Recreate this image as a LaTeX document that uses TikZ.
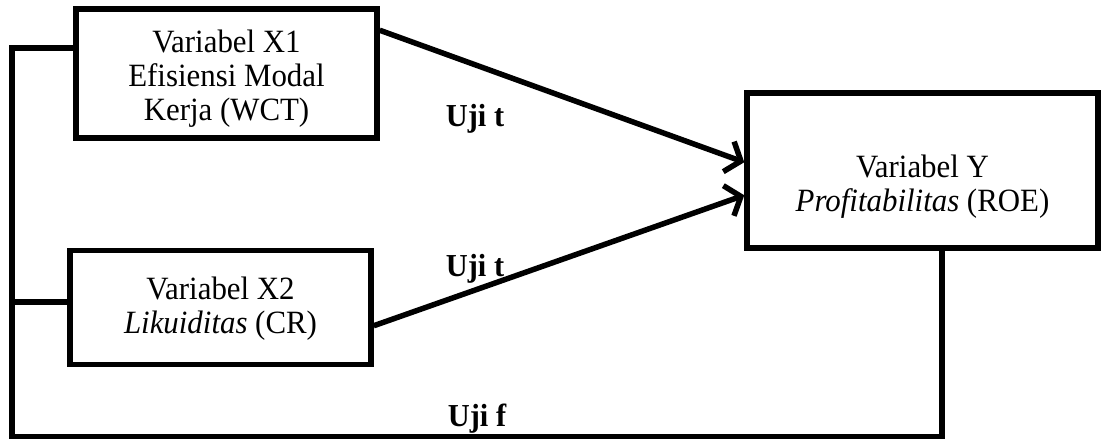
\documentclass[tikz,border=0pt]{standalone}
\usepackage{fontspec}
\setmainfont{Liberation Serif}[FakeStretch=0.95]
\usetikzlibrary{arrows.meta}
\begin{document}
\begin{tikzpicture}[x=1bp,y=-1bp,
  box/.style={draw,line width=5.5bp,line join=miter,inner sep=0pt},
  txt/.style={inner sep=0pt,align=center,font=\fontsize{32.5bp}{34bp}\selectfont},
  conn/.style={line width=5.5bp,line join=miter},
  arr/.style={line width=5.5bp,-{Straight Barb[length=13bp,width=32bp,line width=5.5bp]}},
  lbl/.style={inner sep=0pt,anchor=base,font=\fontsize{32bp}{34bp}\selectfont\bfseries}]
\useasboundingbox (0,0) rectangle (1103,439);
\node[box,minimum width=301bp,minimum height=129bp] (x1) at (226.5,73.5) {};
\node[txt] (x1t) at ([yshift=-5bp]x1.center) {Variabel X1\\Efisiensi Modal\\Kerja (WCT)};
\node[box,minimum width=301bp,minimum height=114bp] (x2) at (220.5,307.5) {};
\node[txt] (x2t) at ([yshift=-1bp]x2.center) {Variabel X2\\\textit{Likuiditas} (CR)};
\node[box,minimum width=351bp,minimum height=155bp] (y) at (922.5,170.5) {};
\node[txt] (yt) at ([yshift=-16bp]y.center) {Variabel Y\\\textit{Profitabilitas} (ROE)};
\coordinate (lt) at (12,48);
\coordinate (lm) at (12,302);
\coordinate (lb) at (12,437);
\coordinate (rb) at (942,437);
\draw[conn] (lt -| x1.west) -- (lt) -- (lb) -- (rb) -- (rb |- y.south);
\draw[conn] (lm -| x2.west) -- (lm);
\draw[arr] ([yshift=-24bp]x1.north east) -- ([yshift=-72bp]y.north west);
\draw[arr] ([yshift=-78bp]x2.north east) -- ([yshift=-105bp]y.north west);
\node[lbl] (u1) at (475,127) {Uji t};
\node[lbl] (u2) at (475,277) {Uji t};
\node[lbl] (u3) at (477,427) {Uji f};
\end{tikzpicture}
\end{document}
